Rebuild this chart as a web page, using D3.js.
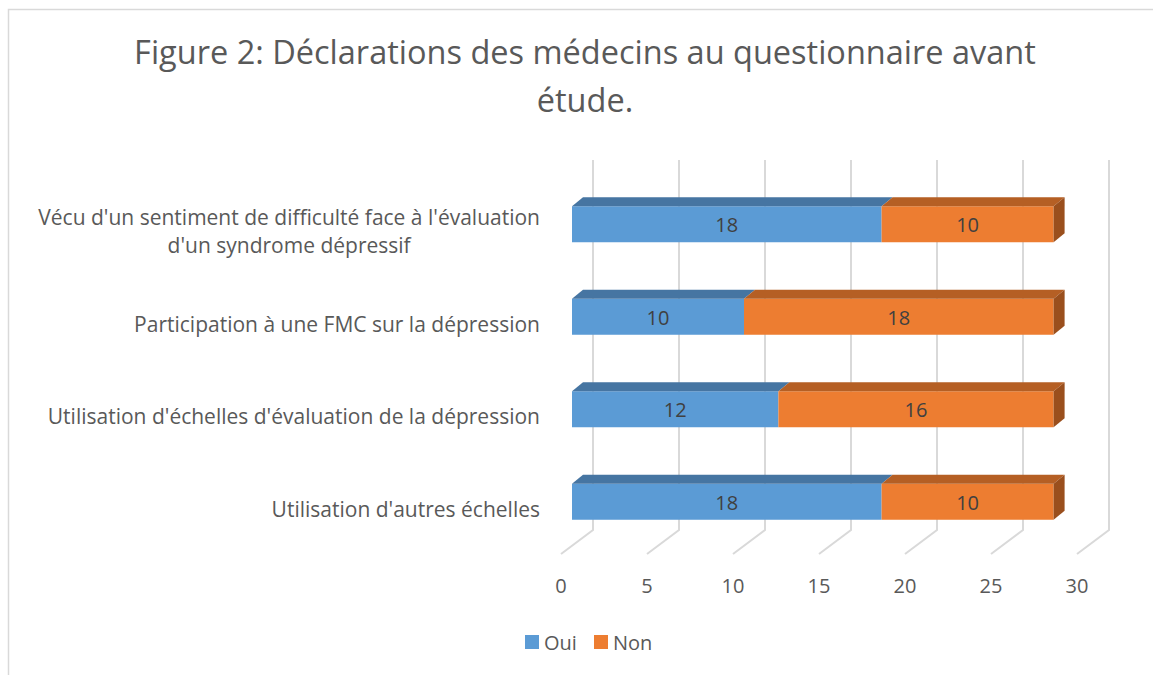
<!DOCTYPE html>
<html>
<head>
<meta charset="utf-8">
<script src="https://d3js.org/d3.v7.min.js"></script>
<style>
body { margin: 0; background: #fff; }
text { font-family: "Open Sans", sans-serif; fill: #595959; }
</style>
</head>
<body>
<svg width="1153" height="675"></svg>
<script>
const categories = [
  ["Vécu d'un sentiment de difficulté face à l'évaluation", "d'un syndrome dépressif"],
  ["Participation à une FMC sur la dépression"],
  ["Utilisation d'échelles d'évaluation de la dépression"],
  ["Utilisation d'autres échelles"]
];
const oui = [18, 10, 12, 18];
const non = [10, 18, 16, 10];
const seriesNames = ["Oui", "Non"];
const tickValues = [0, 5, 10, 15, 20, 25, 30];

const svg = d3.select("svg");
const colors = {
  Oui: { front: "#5b9bd5", top: "#4675a2", side: "#3e6991" },
  Non: { front: "#ed7d31", top: "#b55f24", side: "#9a4f1d" }
};

// chart frame
svg.append("path").attr("d", "M8.5,675 V9.5 H1153").attr("fill", "none")
  .attr("stroke", "#d9d9d9").attr("stroke-width", 1.5);

// title
svg.append("text").attr("x", 585).attr("y", 64).attr("text-anchor", "middle")
  .style("font-size", "32.5px").text("Figure 2: Déclarations des médecins au questionnaire avant");
svg.append("text").attr("x", 585).attr("y", 112).attr("text-anchor", "middle")
  .style("font-size", "32.5px").text("étude.");

// scales: x on back wall, bars drawn shifted toward the viewer
const xs = d3.scaleLinear().domain([0, 30]).range([593, 1109]);
const ys = d3.scalePoint().domain(d3.range(categories.length)).range([178, 548]).padding(0.5);
const wallTop = 160, wallBottom = 530;
const floorDx = 32, floorDy = 24;   // depth of the floor
const barShift = 21;                // front face offset from wall (x)
const depthX = 11, depthY = 9;      // bar depth
const barH = 36;

// gridlines (back wall + floor)
svg.append("g").selectAll("path").data(tickValues).enter().append("path")
  .attr("d", d => "M" + xs(d) + "," + wallTop + " V" + wallBottom + " L" + (xs(d) - floorDx) + "," + (wallBottom + floorDy))
  .attr("fill", "none").attr("stroke", "#d9d9d9").attr("stroke-width", 2);

// tick labels
svg.append("g").selectAll("text").data(tickValues).enter().append("text")
  .attr("x", d => xs(d) - floorDx).attr("y", 593).attr("text-anchor", "middle")
  .style("font-size", "20px").text(d => d);

// stacked data
const rows = categories.map((c, i) => ({ i: i, Oui: oui[i], Non: non[i] }));
const stack = d3.stack().keys(seriesNames)(rows);
const fx = v => xs(v) - barShift;

const bars = svg.append("g");
stack.forEach((layer, li) => {
  const key = layer.key;
  layer.forEach((s, i) => {
    const x0 = fx(s[0]), x1 = fx(s[1]);
    const yt = ys(i) - barH / 2, yb = ys(i) + barH / 2;
    const g = bars.append("g");
    g.append("rect").attr("x", x0).attr("y", yt).attr("width", x1 - x0).attr("height", barH)
      .attr("fill", colors[key].front);
    g.append("path")
      .attr("d", "M" + x0 + "," + yt + " L" + x1 + "," + yt + " L" + (x1 + depthX) + "," + (yt - depthY) + " L" + (x0 + depthX) + "," + (yt - depthY) + "Z")
      .attr("fill", colors[key].top);
    if (li === stack.length - 1) {
      g.append("path")
        .attr("d", "M" + x1 + "," + yt + " L" + (x1 + depthX) + "," + (yt - depthY) + " L" + (x1 + depthX) + "," + (yb - depthY) + " L" + x1 + "," + yb + "Z")
        .attr("fill", colors[key].side);
    }
    g.append("text").attr("x", (x0 + x1) / 2).attr("y", ys(i) + 8).attr("text-anchor", "middle")
      .style("font-size", "20px").style("fill", "#404040").text(s.data[key]);
  });
});

// category labels, right edge at 540; wrapped lines centred on each other
categories.forEach((lines, i) => {
  const t = svg.append("text").attr("text-anchor", "middle").style("font-size", "21px");
  const y0 = ys(i) + 15 - (lines.length - 1) * 14;
  const spans = lines.map((l, k) => t.append("tspan").attr("y", y0 + k * 28).text(l));
  const w = d3.max(spans, s => s.node().getComputedTextLength());
  spans.forEach(s => s.attr("x", 540 - w / 2));
});

// legend
const legend = svg.append("g");
const legendX = [525, 594];
seriesNames.forEach((n, i) => {
  legend.append("rect").attr("x", legendX[i]).attr("y", 635).attr("width", 14).attr("height", 14)
    .attr("fill", colors[n].front);
  legend.append("text").attr("x", legendX[i] + 19).attr("y", 650).style("font-size", "20px").text(n);
});
</script>
</body>
</html>
